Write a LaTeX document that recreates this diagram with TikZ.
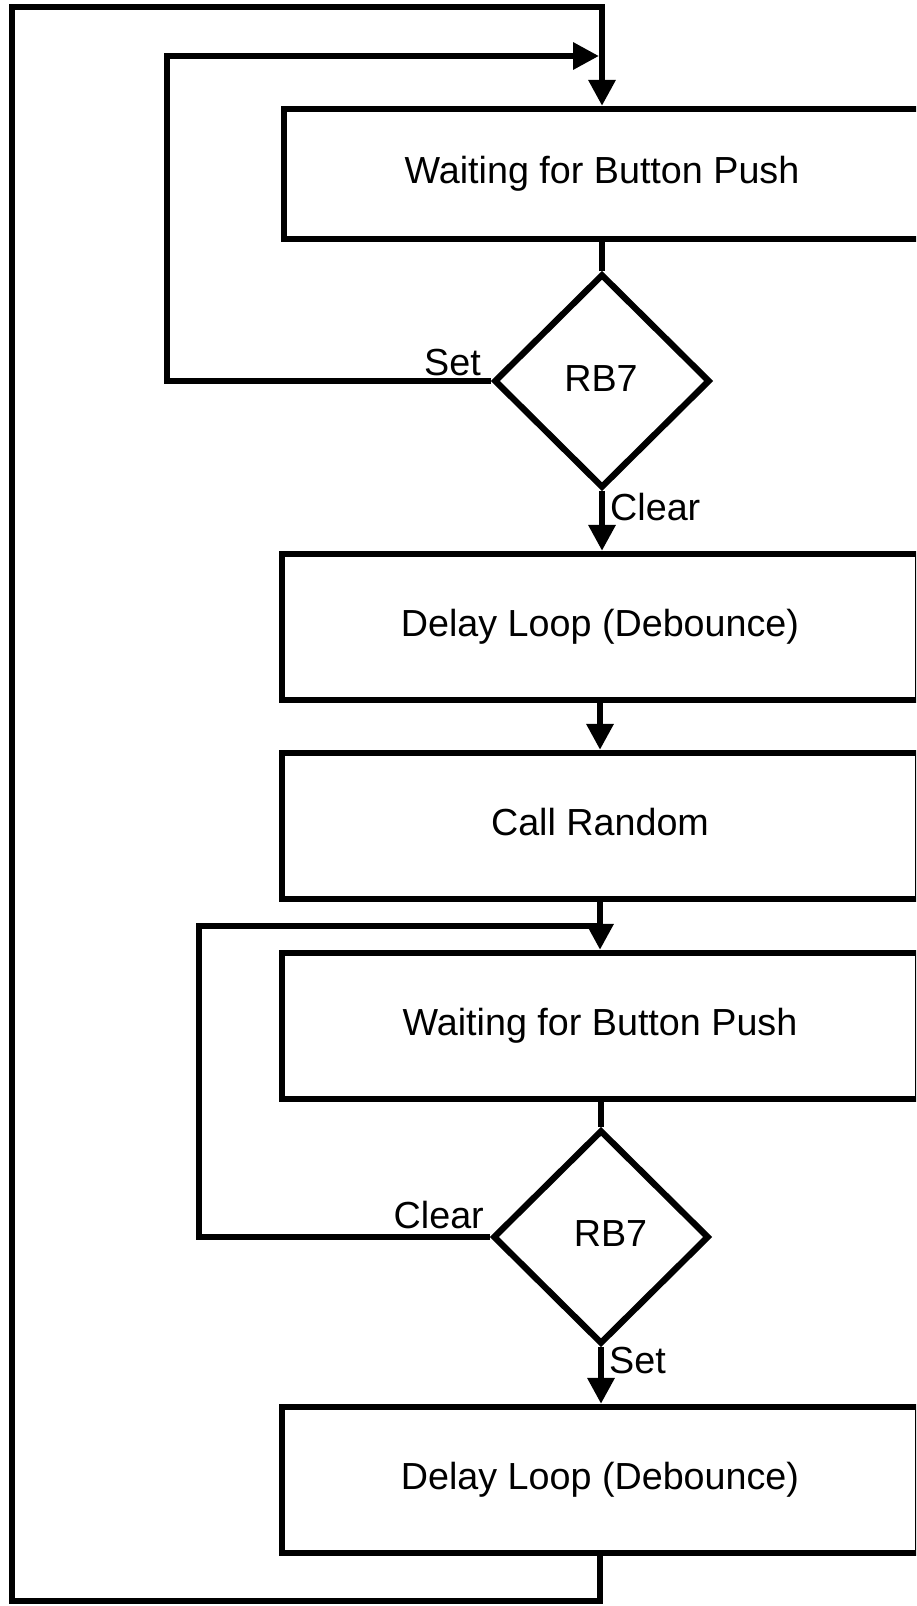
\documentclass[tikz,border=0pt]{standalone}
\usepackage{fontspec}
\setmainfont{Liberation Sans}
\usetikzlibrary{arrows.meta,shapes.geometric}
\newcommand{\mainsize}{\fontsize{37.7}{44}\selectfont}
\begin{document}
\begin{tikzpicture}[x=1pt,y=-1pt,
  flow/.style={line width=6.3pt},
  arr/.style={flow,-{Triangle[length=26pt,width=26pt]}},
  stepbox/.style={draw,line width=6.3pt,rectangle,minimum width=636pt,
    minimum height=146pt,inner sep=0pt,font=\mainsize,
    text height=27.9pt,text depth=9.8pt},
  decision/.style={draw,line width=6.3pt,diamond,minimum width=216pt,
    minimum height=214pt,inner sep=0pt},
  lbl/.style={font=\mainsize,inner sep=0pt}]
\useasboundingbox (0,0) rectangle (916,1606);
\clip (0,0) rectangle (916,1606);

% corner points of the feedback loops
\coordinate (l1) at (167,56);
\coordinate (j1) at (599,56);
\coordinate (l2) at (199,926);
\coordinate (ob) at (12,1601);
\coordinate (ot) at (12,7);

% process steps and decisions
\node[stepbox,minimum height=130pt] (b1) at (602,174) {Waiting for Button Push};
\node[decision] (d1) at (602,381) {};
\node[lbl,anchor=base] (t1) at (601,391.5) {RB7};
\node[stepbox] (b2) at (600,627) {Delay Loop (Debounce)};
\node[stepbox] (b3) at (600,826) {Call Random};
\node[stepbox] (b4) at (600,1026) {Waiting for Button Push};
\node[decision] (d2) at (601,1237) {};
\node[lbl,anchor=base] (t2) at (610.5,1246.5) {RB7};
\node[stepbox] (b5) at (600,1480) {Delay Loop (Debounce)};

% main flow
\draw[flow] (b1.south) -- (d1.north);
\draw[arr] (d1.south) -- (d1.south |- b2.north);
\draw[arr] (b2.south) -- (b3.north);
\draw[flow] (d2.west) -| (l2) -- (l2 -| b4.north);
\draw[arr] (b3.south) -- (b4.north);
\draw[flow] (d2.north |- b4.south) -- (d2.north);
\draw[arr] (d2.south) -- (d2.south |- b5.north);

% loops back to the top
\draw[arr] (d1.west) -| (l1) -- (j1);
\draw[arr] (b5.south) |- (ob) -- (ot) -| (b1.north);

% branch labels
\node[lbl,anchor=base east] (s1) at (481,375) {Set};
\node[lbl,anchor=base west] (c1) at (610,520) {Clear};
\node[lbl,anchor=base east] (c2) at (484,1228) {Clear};
\node[lbl,anchor=base west] (s2) at (609,1373) {Set};
\end{tikzpicture}
\end{document}
